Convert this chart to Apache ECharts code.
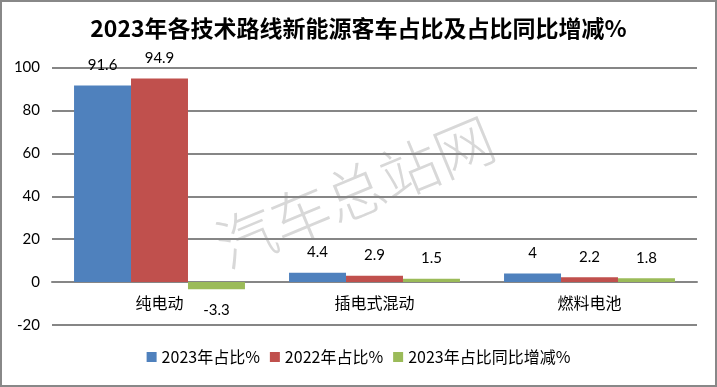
<!DOCTYPE html>
<html><head><meta charset="utf-8">
<script src="https://cdn.jsdelivr.net/npm/echarts@6/dist/echarts.min.js"></script>
<style>html,body{margin:0;padding:0;background:#fff}#c{width:717px;height:387px}</style>
</head><body><div id="c"></div>
<script>
const categories = ['纯电动', '插电式混动', '燃料电池'];
const share2023 = [91.6, 4.4, 4];
const share2022 = [94.9, 2.9, 2.2];
const shareChange = [-3.3, 1.5, 1.8];
const seriesNames = ['2023年占比%', '2022年占比%', '2023年占比同比增减%'];
const yTicks = { min: -20, max: 100, interval: 20 };

const numFont = 'Lato, "Noto Sans CJK SC", sans-serif';
const cjkFont = '"Noto Sans CJK SC", sans-serif';

function mk(vals) {
  return vals.map(v => ({
    value: v,
    label: { position: v < 0 ? 'bottom' : 'top' }
  }));
}
const lbl = { show: true, distance: 13, fontSize: 15, fontFamily: numFont, color: '#000' };
const chart = echarts.init(document.getElementById('c'));
chart.setOption({
  animation: false,
  color: ['#4F81BD', '#C0504D', '#9BBB59'],
  title: {
    text: '2023年各技术路线新能源客车占比及占比同比增减%',
    left: 'center', top: 12,
    textStyle: { fontSize: 23, fontWeight: 'bold', fontFamily: cjkFont, color: '#000' }
  },
  graphic: [
    { type: 'rect', shape: { x: 1, y: 1, width: 715, height: 385 }, style: { fill: 'none', stroke: '#888', lineWidth: 2 }, z: 100 },
    { type: 'text', x: 355, y: 192, rotation: 0.394, z: -10,
      style: { text: '汽车总站网', fontSize: 59, fontFamily: cjkFont, fontWeight: 300, fill: '#d8d8d8', align: 'center', verticalAlign: 'middle' } }
  ],
  legend: {
    bottom: 17, left: 'center', itemWidth: 10, itemHeight: 10, itemGap: 10,
    icon: 'rect',
    textStyle: { fontSize: 16, fontFamily: cjkFont, color: '#000' },
    data: seriesNames
  },
  grid: { left: 52, right: 20, top: 67.5, bottom: 62 },
  xAxis: {
    type: 'category', data: categories,
    offset: -43,
    axisLine: { onZero: false, lineStyle: { color: '#868686', width: 2 } },
    axisTick: { show: false },
    axisLabel: { margin: 13, fontSize: 16, fontFamily: cjkFont, color: '#000' }
  },
  yAxis: {
    type: 'value', min: yTicks.min, max: yTicks.max, interval: yTicks.interval,
    axisLine: { show: false }, axisTick: { show: false },
    splitLine: { lineStyle: { color: '#868686', width: 2 } },
    axisLabel: { margin: 12, fontSize: 15, fontFamily: numFont, color: '#000' }
  },
  series: [
    { name: seriesNames[0], type: 'bar', data: mk(share2023), barGap: '0%', barCategoryGap: '20.5%', label: lbl },
    { name: seriesNames[1], type: 'bar', data: mk(share2022), barGap: '0%', barCategoryGap: '20.5%', label: lbl },
    { name: seriesNames[2], type: 'bar', data: mk(shareChange), barGap: '0%', barCategoryGap: '20.5%', label: lbl }
  ]
});
</script></body></html>
